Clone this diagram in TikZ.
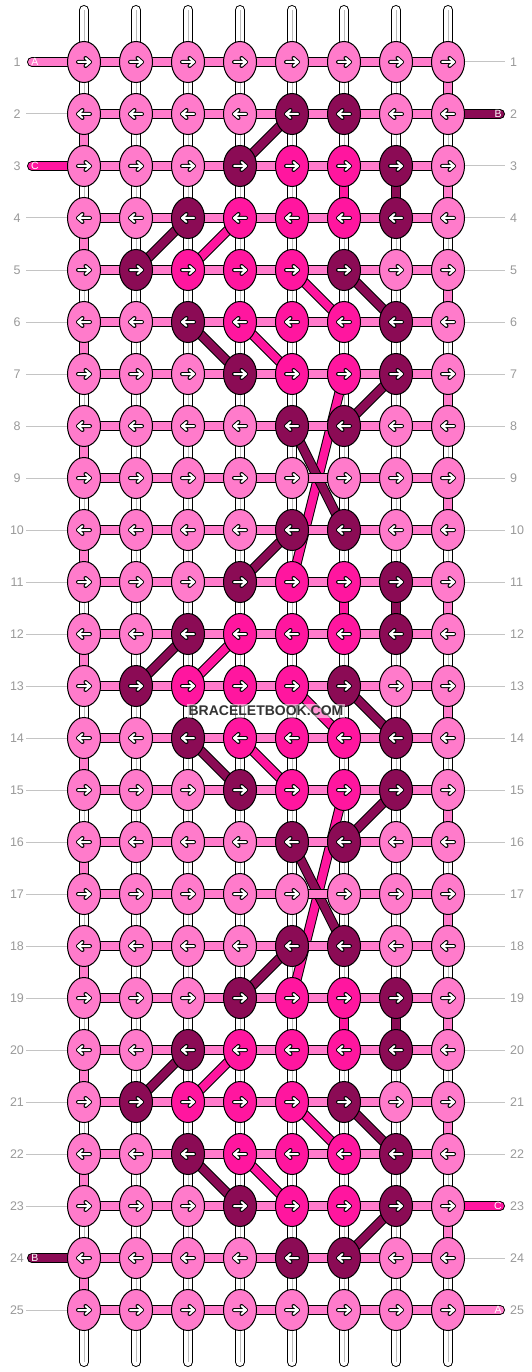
\documentclass[tikz,border=0pt]{standalone}
\usepackage{fontspec}
\setmainfont{Liberation Sans}
\usetikzlibrary{shapes.geometric}
\definecolor{cL}{HTML}{FF7BCB}
\definecolor{cH}{HTML}{FF169F}
\definecolor{cD}{HTML}{8B0B55}
\definecolor{numgrey}{HTML}{999999}
\definecolor{leadgrey}{HTML}{C4C4C4}
\definecolor{coregrey}{HTML}{BBBBBB}
\definecolor{wmgrey}{HTML}{333333}
\pgfdeclarelayer{vert}\pgfdeclarelayer{diag}\pgfdeclarelayer{horiz}
\pgfsetlayers{vert,diag,horiz,main}
\begin{document}
\begin{tikzpicture}[x=1pt,y=-1pt,
  knot/.style={ellipse, draw=black, line width=1pt, minimum width=33pt, minimum height=41pt, inner sep=0pt},
  tube/.style={draw=black, line width=1pt, double=#1, double distance=8pt},
  core/.style={draw=coregrey, line width=1pt},
  leader/.style={draw=leadgrey, line width=1pt},
  rownum/.style={text=numgrey, font=\fontsize{12.5}{15}\selectfont, inner sep=0pt},
  stubtext/.style={text=white, font=\fontsize{10.5}{12}\selectfont, inner sep=0pt},
  wmark/.style={text=wmgrey, font=\fontsize{14}{16}\selectfont\bfseries, fill=white, fill opacity=0.55, text opacity=1, inner sep=2pt},
  rarr/.pic={
    \draw[black, line width=4pt, line cap=round, line join=round] (-6,0) -- (6,0) (1.5,-4) -- (6,0) -- (1.5,4);
    \draw[white, line width=2pt, line cap=round, line join=round] (-6,0) -- (6,0) (1.5,-4) -- (6,0) -- (1.5,4);
  },
  larr/.pic={
    \draw[black, line width=4pt, line cap=round, line join=round] (6,0) -- (-6,0) (-1.5,-4) -- (-6,0) -- (-1.5,4);
    \draw[white, line width=2pt, line cap=round, line join=round] (6,0) -- (-6,0) (-1.5,-4) -- (-6,0) -- (-1.5,4);
  }]
\useasboundingbox (0,0) rectangle (532,1372);

% knots
\foreach \r/\ca/\cb/\cc/\cd/\ce/\cf/\cg/\ch in {
  1/L/L/L/L/L/L/L/L, 2/L/L/L/L/D/D/L/L, 3/L/L/L/D/H/H/D/L, 4/L/L/D/H/H/H/D/L,
  5/L/D/H/H/H/D/L/L, 6/L/L/D/H/H/H/D/L, 7/L/L/L/D/H/H/D/L, 8/L/L/L/L/D/D/L/L,
  9/L/L/L/L/L/L/L/L, 10/L/L/L/L/D/D/L/L, 11/L/L/L/D/H/H/D/L, 12/L/L/D/H/H/H/D/L,
  13/L/D/H/H/H/D/L/L, 14/L/L/D/H/H/H/D/L, 15/L/L/L/D/H/H/D/L, 16/L/L/L/L/D/D/L/L,
  17/L/L/L/L/L/L/L/L, 18/L/L/L/L/D/D/L/L, 19/L/L/L/D/H/H/D/L, 20/L/L/D/H/H/H/D/L,
  21/L/D/H/H/H/D/L/L, 22/L/L/D/H/H/H/D/L, 23/L/L/L/D/H/H/D/L, 24/L/L/L/L/D/D/L/L,
  25/L/L/L/L/L/L/L/L}{
  \foreach \k [count=\c] in {\ca,\cb,\cc,\cd,\ce,\cf,\cg,\ch}{
    \node[knot, fill=c\k] (k-\r-\c) at ({84+52*(\c-1)},{62+52*(\r-1)}) {};
    \ifodd\r\relax \pic at (k-\r-\c) {rarr}; \else \pic at (k-\r-\c) {larr}; \fi
  }
}

% row numbers and leaders
\foreach \r in {1,...,25}{
  \node[rownum] (nl-\r) at (17,{62+52*(\r-1)}) {\r};
  \node[rownum, anchor=west] (nr-\r) at (510,{62+52*(\r-1)}) {\r};
}
\foreach \r in {2,4,5,6,7,8,9,10,11,12,13,14,15,16,17,18,19,20,21,22,23,25}{
  \coordinate (ll-\r) at (26,{62+52*(\r-1)});
  \draw[leader] (ll-\r) -- (k-\r-1.west);
}
\foreach \r in {1,3,4,5,6,7,8,9,10,11,12,13,14,15,16,17,18,19,20,21,22,24}{
  \coordinate (lr-\r) at (505,{62+52*(\r-1)});
  \draw[leader] (k-\r-8.east) -- (lr-\r);
}

\begin{pgfonlayer}{vert}
  % white warp strands between rows
  \foreach \r [evaluate=\r as \n using int(\r+1)] in {1,...,24}{
    \foreach \c in {1,...,8}{
      \draw[tube=white] (k-\r-\c.center) -- (k-\n-\c.center);
      \draw[core] (k-\r-\c.center) -- (k-\n-\c.center);
    }
  }
  % top and bottom strand ends
  \foreach \c in {1,...,8}{
    \coordinate (top-\c) at ({84+52*(\c-1)},10);
    \coordinate (bot-\c) at ({84+52*(\c-1)},1362);
    \draw[tube=white, line cap=round] (top-\c) -- (k-1-\c.center);
    \draw[core] (top-\c) -- (k-1-\c.center);
    \draw[tube=white, line cap=round] (k-25-\c.center) -- (bot-\c);
    \draw[core] (k-25-\c.center) -- (bot-\c);
  }
  % weft turning at the edges
  \foreach \r [evaluate=\r as \n using int(\r+1)] in {1,3,...,23}{
    \draw[tube=cL] (k-\r-8.center) -- (k-\n-8.center);
  }
  \foreach \r [evaluate=\r as \n using int(\r+1)] in {2,4,...,24}{
    \draw[tube=cL] (k-\r-1.center) -- (k-\n-1.center);
  }
  % coloured vertical carries
  \foreach \o in {0,8,16}{
    \pgfmathtruncatemacro\ya{3+\o}\pgfmathtruncatemacro\yb{4+\o}
    \draw[tube=cD] (k-\ya-7.center) -- (k-\yb-7.center);
    \draw[tube=cH] (k-\ya-6.center) -- (k-\yb-6.center);
  }
\end{pgfonlayer}

\begin{pgfonlayer}{diag}
  \foreach \o in {0,8,16}{
    \foreach \ra/\xa/\rb/\xb/\col in {2/5/3/4/D, 4/3/5/2/D, 6/3/7/4/D, 5/6/6/7/D, 7/7/8/6/D,
                                      4/4/5/3/H, 6/4/7/5/H, 5/5/6/6/H}{
      \pgfmathtruncatemacro\ya{\ra+\o}\pgfmathtruncatemacro\yb{\rb+\o}
      \draw[tube=c\col] (k-\ya-\xa.center) -- (k-\yb-\xb.center);
    }
  }
  \draw[tube=cH] (k-7-6.center) -- (k-11-5.center);
  \draw[tube=cH] (k-15-6.center) -- (k-19-5.center);
  \draw[tube=cD] (k-8-5.center) -- (k-10-6.center);
  \draw[tube=cD] (k-16-5.center) -- (k-18-6.center);
\end{pgfonlayer}

\begin{pgfonlayer}{horiz}
  \foreach \r in {1,...,25}{
    \foreach \c [evaluate=\c as \n using int(\c+1)] in {1,...,7}{
      \draw[tube=cL] (k-\r-\c.center) -- (k-\r-\n.center);
    }
  }
  % entering and leaving strings
  \coordinate (inA) at (32,62);
  \coordinate (inC) at (32,166);
  \coordinate (outB24) at (32,1258);
  \coordinate (inB) at (500,114);
  \coordinate (outC) at (500,1206);
  \coordinate (outA) at (500,1310);
  \draw[tube=cL, line cap=round] (inA) -- (k-1-1.center);
  \draw[tube=cH, line cap=round] (inC) -- (k-3-1.center);
  \draw[tube=cD, line cap=round] (outB24) -- (k-24-1.center);
  \draw[tube=cD, line cap=round] (k-2-8.center) -- (inB);
  \draw[tube=cH, line cap=round] (k-23-8.center) -- (outC);
  \draw[tube=cL, line cap=round] (k-25-8.center) -- (outA);
\end{pgfonlayer}

\node[stubtext] (tA) at (35,62) {A};
\node[stubtext] (tC) at (35,166) {C};
\node[stubtext] (tB2) at (35,1258) {B};
\node[stubtext] (tB) at (498,114) {B};
\node[stubtext] (tC2) at (498,1206) {C};
\node[stubtext] (tA2) at (498,1310) {A};

\node[wmark] (wm) at (266,711) {BRACELETBOOK.COM};
\end{tikzpicture}
\end{document}
